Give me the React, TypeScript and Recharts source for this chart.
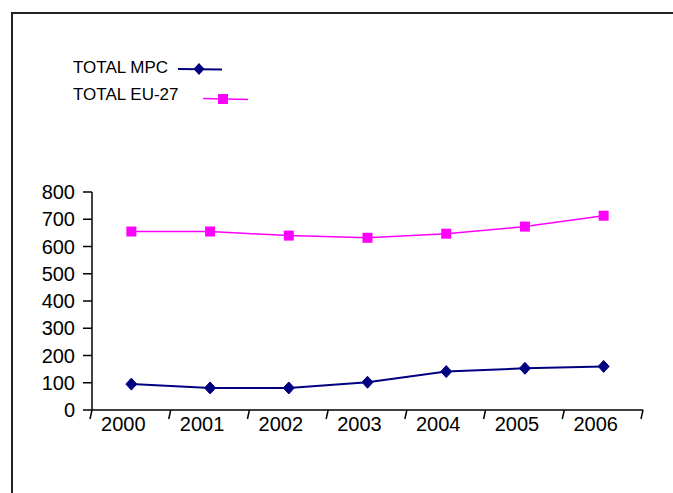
import React from "react";
import { LineChart, Line, XAxis, YAxis } from "recharts";

const years = ["2000", "2001", "2002", "2003", "2004", "2005", "2006"];
const totalMpc = [95, 81, 81, 102, 141, 153, 160];
const totalEu27 = [655, 655, 640, 632, 647, 673, 713];
const yTicks = [0, 100, 200, 300, 400, 500, 600, 700, 800];

const data = years.map((y, i) => ({
  x: i + 0.5,
  year: y,
  mpc: totalMpc[i],
  eu: totalEu27[i],
}));

const xTicks: number[] = [];
for (let i = 0; i <= years.length; i++) {
  xTicks.push(i);
  if (i < years.length) xTicks.push(i + 0.5);
}

const FONT = "'Liberation Sans', Arial, sans-serif";
const NAVY = "#000080";
const PINK = "#FF00FF";
const AXIS_Y = 410;

const XTick = (props: any) => {
  const { x, payload } = props;
  const y = AXIS_Y;
  const v = payload.value;
  if (Number.isInteger(v)) {
    return <line x1={x} y1={y} x2={x - 2} y2={y + 9} stroke="#000" strokeWidth={1.5} />;
  }
  const label = years[Math.floor(v)];
  return (
    <text x={x - 8} y={y + 21} textAnchor="middle" fontSize={20} fontFamily={FONT} fill="#000">
      {label}
    </text>
  );
};

const Diamond = (props: any) => {
  const { cx, cy, index } = props;
  if (cx == null || cy == null) return <g key={"d" + index} />;
  return (
    <path
      key={"d" + index}
      d={`M${cx},${cy - 6} L${cx + 5.5},${cy} L${cx},${cy + 6} L${cx - 5.5},${cy} Z`}
      fill={NAVY}
      stroke={NAVY}
    />
  );
};

const Square = (props: any) => {
  const { cx, cy, index } = props;
  if (cx == null || cy == null) return <g key={"s" + index} />;
  return <rect key={"s" + index} x={cx - 5} y={cy - 5} width={10} height={10} fill={PINK} />;
};

export default function App() {
  return (
    <div
      style={{
        position: "absolute",
        left: 0,
        top: 0,
        width: 673,
        height: 493,
        overflow: "hidden",
        background: "#fff",
      }}
    >
      <div
        style={{
          position: "absolute",
          left: 11,
          top: 12,
          width: 700,
          height: 520,
          borderTop: "2px solid #222",
          borderLeft: "2px solid #222",
        }}
      />
      <svg
        width={673}
        height={493}
        style={{ position: "absolute", left: 0, top: 0 }}
      >
        <text x={73} y={73} fontSize={17} fontFamily={FONT} fill="#000">
          TOTAL MPC
        </text>
        <line x1={178} y1={69} x2={222} y2={69.5} stroke={NAVY} strokeWidth={2} />
        <path d="M199,63 L204.5,69 L199,75 L193.5,69 Z" fill={NAVY} />
        <text x={73} y={100} fontSize={17} fontFamily={FONT} fill="#000">
          TOTAL EU-27
        </text>
        <line x1={203} y1={98.5} x2={248} y2={99.5} stroke={PINK} strokeWidth={1.5} />
        <rect x={218} y={94} width={10} height={10} fill={PINK} />
      </svg>
      <div style={{ position: "absolute", left: 0, top: 0 }}>
        <LineChart
          width={673}
          height={493}
          data={data}
          margin={{ top: 192, right: 30, bottom: 53, left: 33 }}
        >
          <XAxis
            type="number"
            dataKey="x"
            domain={[0, 7]}
            ticks={xTicks}
            interval={0}
            tick={<XTick />}
            tickLine={false}
            tickSize={0}
            tickMargin={0}
            axisLine={{ stroke: "#000", strokeWidth: 1.5 }}
            height={30}
            allowDataOverflow
          />
          <YAxis
            domain={[0, 800]}
            ticks={yTicks}
            interval={0}
            width={59}
            tickSize={9}
            tickMargin={8}
            tick={{ fontSize: 20, fontFamily: FONT, fill: "#000" }}
            tickLine={{ stroke: "#000", strokeWidth: 1.5 }}
            axisLine={{ stroke: "#000", strokeWidth: 1.5 }}
          />
          <Line
            dataKey="eu"
            stroke={PINK}
            strokeWidth={1.5}
            dot={Square}
            isAnimationActive={false}
          />
          <Line
            dataKey="mpc"
            stroke={NAVY}
            strokeWidth={2}
            dot={Diamond}
            isAnimationActive={false}
          />
        </LineChart>
      </div>
    </div>
  );
}
